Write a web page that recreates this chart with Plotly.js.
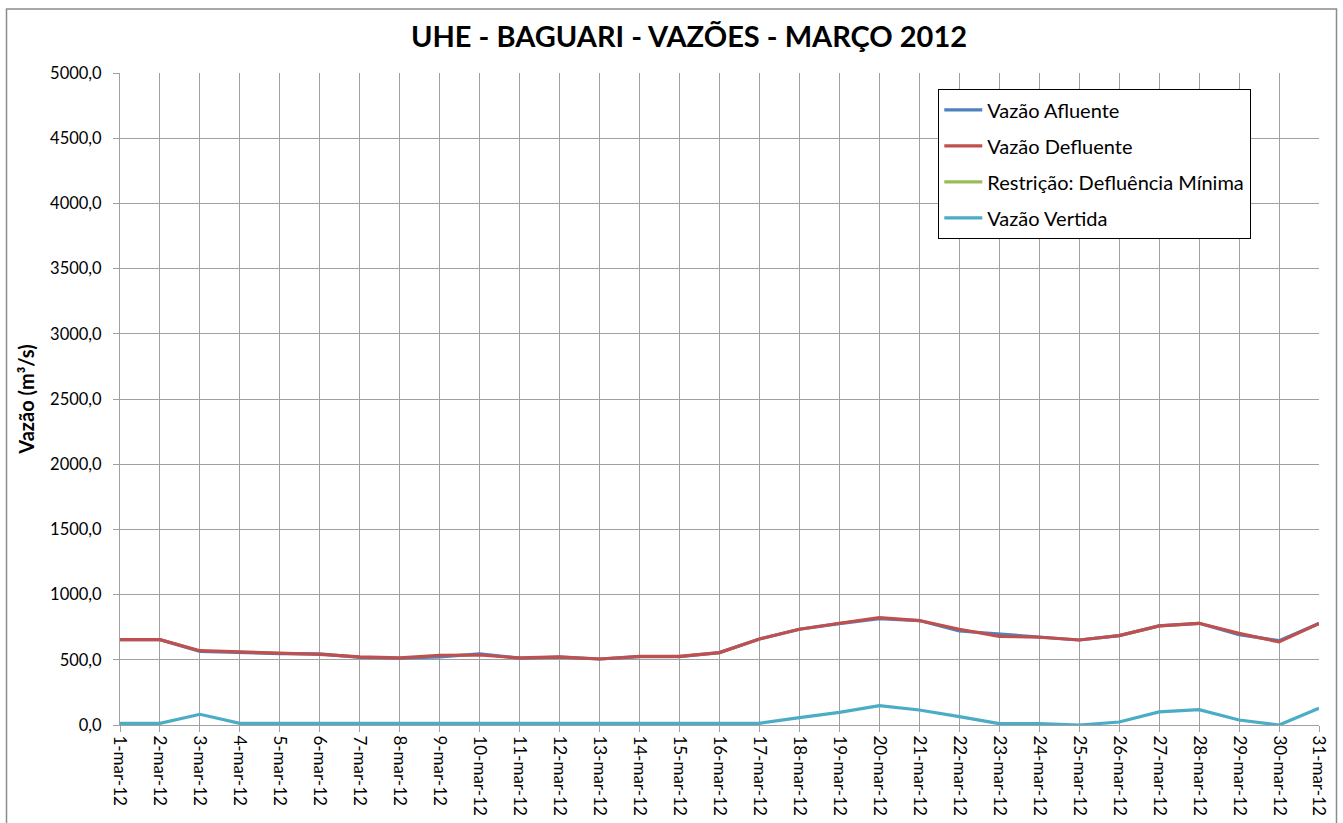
<!DOCTYPE html>
<html>
<head>
<meta charset="utf-8">
<script src="https://cdn.plot.ly/plotly-3.0.1.min.js"></script>
<style>
  html, body { margin: 0; padding: 0; background: #fff; }
  #chart { width: 1343px; height: 823px; }
</style>
</head>
<body>
<div id="chart"></div>
<script>
const days = ["1-mar-12","2-mar-12","3-mar-12","4-mar-12","5-mar-12","6-mar-12","7-mar-12","8-mar-12","9-mar-12","10-mar-12",
  "11-mar-12","12-mar-12","13-mar-12","14-mar-12","15-mar-12","16-mar-12","17-mar-12","18-mar-12","19-mar-12","20-mar-12",
  "21-mar-12","22-mar-12","23-mar-12","24-mar-12","25-mar-12","26-mar-12","27-mar-12","28-mar-12","29-mar-12","30-mar-12","31-mar-12"];

const vazaoAfluente = [655,655,565,555,548,545,518,512,522,545,512,520,506,524,524,555,660,734,778,815,801,721,698,678,652,686,760,780,693,647,778];
const vazaoDefluente = [655,655,570,560,550,542,522,514,535,537,514,522,506,527,527,555,660,734,780,824,801,734,680,673,652,686,760,780,703,637,778];
const restricaoDefluenciaMinima = [null,null,null,null,null,null,null,null,null,null,null,null,null,null,null,null,null,null,null,null,null,null,null,null,null,null,null,null,null,null,null];
const vazaoVertida = [13,13,82,13,13,13,13,13,15,13,13,13,13,13,13,13,13,56,97,148,115,64,10,10,0,23,100,118,38,0,128];

const seriesNames = ["Vazão Afluente","Vazão Defluente","Restrição: Defluência Mínima","Vazão Vertida"];
const seriesColors = ["#4F81BD","#C0504D","#9BBB59","#4BACC6"];
const seriesValues = [vazaoAfluente, vazaoDefluente, restricaoDefluenciaMinima, vazaoVertida];

const traces = seriesValues.map((vals, i) => ({
  type: 'scatter',
  mode: 'lines',
  x: days,
  y: vals,
  name: seriesNames[i],
  legendgroup: 'g' + i,
  line: { color: seriesColors[i], width: 3.2 },
  hoverinfo: 'x+y'
}));

const font = "Lato, 'Open Sans', 'DejaVu Sans', sans-serif";
const grid = '#A0A0A0';

const plotL = 120, plotR = 1319, plotT = 73, plotB = 725;
const pw = plotR - plotL, ph = plotB - plotT;

const layout = {
  width: 1343,
  height: 823,
  margin: { l: plotL, r: 1343 - plotR, t: plotT, b: 823 - plotB, pad: 0 },
  paper_bgcolor: '#ffffff',
  plot_bgcolor: '#ffffff',
  separators: ',.',
  showlegend: true,
  font: { family: font, color: '#000', size: 16 },
  title: {
    text: '<b>UHE - BAGUARI - VAZÕES - MARÇO 2012</b>',
    font: { family: font, size: 29, color: '#000' },
    x: 689 / 1343, xanchor: 'center', xref: 'container',
    y: 1 - 37 / 823, yanchor: 'middle', yref: 'container'
  },
  xaxis: {
    type: 'category',
    range: [0, 30],
    showgrid: true,
    gridcolor: grid,
    gridwidth: 1,
    showline: true,
    linecolor: grid,
    linewidth: 1,
    ticks: 'outside',
    ticklen: 6,
    tickcolor: grid,
    tickangle: 90,
    tickfont: { family: font, size: 17, color: '#000' },
    zeroline: false,
    fixedrange: true
  },
  yaxis: {
    range: [0, 5000],
    dtick: 500,
    tick0: 0,
    tickformat: '.1f',
    showgrid: true,
    gridcolor: grid,
    gridwidth: 1,
    showline: true,
    linecolor: grid,
    linewidth: 1,
    ticks: 'outside',
    ticklen: 6,
    tickcolor: grid,
    ticklabelstandoff: 8,
    tickfont: { family: font, size: 16.5, color: '#000' },
    zeroline: false,
    title: { text: '<b>Vazão (m³/s)</b>', font: { family: font, size: 20, color: '#000' }, standoff: 10 },
    fixedrange: true
  },
  legend: {
    x: (938 - plotL) / pw, xanchor: 'left',
    y: (plotB - 89) / ph, yanchor: 'top',
    bgcolor: '#ffffff',
    bordercolor: '#000000',
    borderwidth: 1.3,
    font: { family: font, size: 20, color: '#000' },
    traceorder: 'grouped',
    tracegroupgap: 7,
    itemwidth: 38
  },
  shapes: [{
    type: 'rect', xref: 'paper', yref: 'paper',
    x0: (6.5 - plotL) / pw, x1: (1336.5 - plotL) / pw,
    y0: (plotB - 900) / ph, y1: (plotB - 9) / ph,
    line: { color: '#8C8C8C', width: 1.5 },
    fillcolor: 'rgba(0,0,0,0)',
    layer: 'below'
  }]
};

Plotly.newPlot('chart', traces, layout, { displayModeBar: false, staticPlot: true });
</script>
</body>
</html>
